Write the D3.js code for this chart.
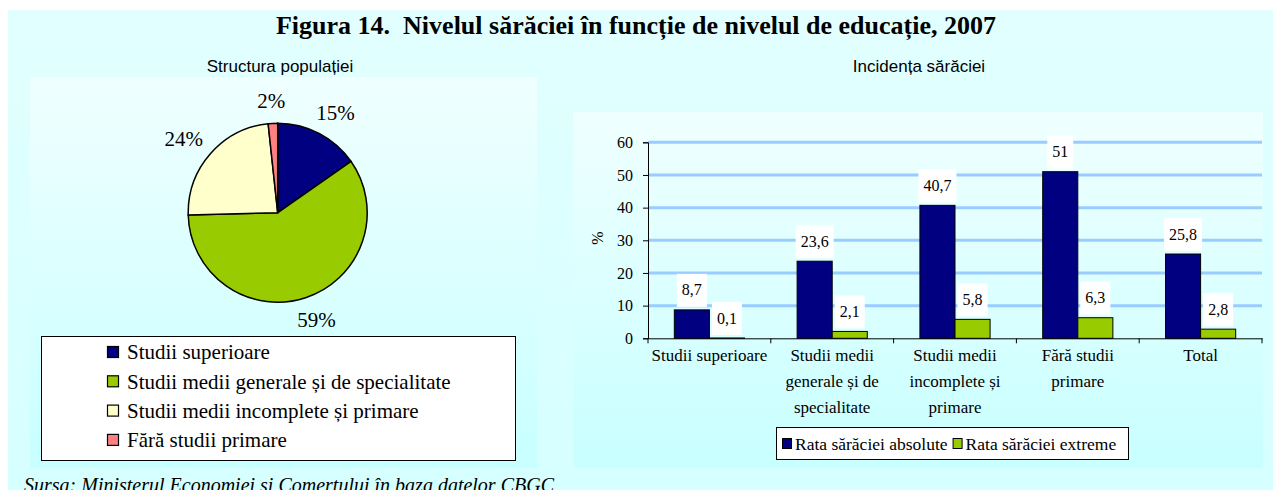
<!DOCTYPE html>
<html>
<head>
<meta charset="utf-8">
<script src="https://d3js.org/d3.v7.min.js"></script>
<style>
  body { margin: 0; background: #fff; }
  svg { display: block; }
</style>
</head>
<body>
<svg width="1273" height="490"></svg>

<script>
  // pie: population structure
  const pieCategories = ["Studii superioare", "Studii medii generale și de specialitate", "Studii medii incomplete și primare", "Fără studii primare"];
  const pieValues = [15.3, 59.3, 23.7, 1.7];
  const pieLabels = ["15%", "59%", "24%", "2%"];

  // bars: poverty incidence
  const barCategories = ["Studii superioare", "Studii medii\ngenerale și de\nspecialitate", "Studii medii\nincomplete și\nprimare", "Fără studii\nprimare", "Total"];
  const seriesNames = ["Rata sărăciei absolute", "Rata sărăciei extreme"];
  const absoluteValues = [8.7, 23.6, 40.7, 51, 25.8];
  const extremeValues = [0.1, 2.1, 5.8, 6.3, 2.8];
  const yTicks = [0, 10, 20, 30, 40, 50, 60];

  const pieColors = ["#000080", "#99cc00", "#ffffcc", "#ff8080"];
  const barColors = ["#000080", "#99cc00"];
  const serif = "'Liberation Serif', 'Times New Roman', serif";
  const sans = "'Liberation Sans', Arial, sans-serif";

  const svg = d3.select("svg");
  const defs = svg.append("defs");

  const grad = (id, c1, c2) => {
    const g = defs.append("linearGradient").attr("id", id)
      .attr("x1", 0).attr("y1", 0).attr("x2", 0).attr("y2", 1);
    g.append("stop").attr("offset", "0%").attr("stop-color", c1);
    g.append("stop").attr("offset", "100%").attr("stop-color", c2);
  };
  grad("bgOuter", "#e2ffff", "#d6ffff");
  grad("bgPanel", "#f0ffff", "#c8ffff");

  // backgrounds
  svg.append("rect").attr("x", 8).attr("y", 10).attr("width", 1265).attr("height", 480)
    .attr("fill", "url(#bgOuter)");
  svg.append("rect").attr("x", 30).attr("y", 77).attr("width", 507).attr("height", 391)
    .attr("fill", "url(#bgPanel)");
  svg.append("rect").attr("x", 573).attr("y", 112).attr("width", 690).attr("height", 356)
    .attr("fill", "url(#bgPanel)");

  // titles
  svg.append("text")
    .attr("x", 636).attr("y", 34)
    .attr("text-anchor", "middle")
    .style("white-space", "pre")
    .style("font-family", serif).style("font-weight", "bold").style("font-size", "26px")
    .text("Figura 14.  Nivelul sărăciei în funcție de nivelul de educație, 2007");

  svg.append("text")
    .attr("x", 280).attr("y", 72)
    .attr("text-anchor", "middle")
    .style("font-family", sans).style("font-size", "17px")
    .text("Structura populației");

  svg.append("text")
    .attr("x", 919).attr("y", 72)
    .attr("text-anchor", "middle")
    .style("font-family", sans).style("font-size", "17px")
    .text("Incidența sărăciei");

  // ---- pie ----
  const cx = 277.7, cy = 212.7, r = 89.5;
  const pie = d3.pie().sort(null).value(d => d)(pieValues);
  const arc = d3.arc().innerRadius(0).outerRadius(r);

  const pg = svg.append("g").attr("transform", `translate(${cx},${cy})`);
  pg.selectAll("path")
    .data(pie)
    .enter().append("path")
    .attr("d", arc)
    .attr("fill", (d, i) => pieColors[i])
    .attr("stroke", "#000")
    .attr("stroke-width", 1.5);

  // outside labels: just beyond the rim on the mid-angle, pushed out by half the label size
  pg.selectAll("text")
    .data(pie)
    .enter().append("text")
    .attr("text-anchor", "middle")
    .attr("dy", "0.35em")
    .style("font-family", serif).style("font-size", "21px")
    .text((d, i) => pieLabels[i])
    .attr("transform", function(d) {
      const a = (d.startAngle + d.endAngle) / 2;
      const w = this.getComputedTextLength();
      const sx = Math.sin(a), sy = -Math.cos(a);
      const px = sx * (r + 10) + sx * (w / 2 + 6);
      const py = sy * (r + 10) + sy * 13;
      return `translate(${px},${py})`;
    });

  // pie legend
  svg.append("rect").attr("x", 41.5).attr("y", 336.5).attr("width", 474).attr("height", 124)
    .attr("fill", "#fff").attr("stroke", "#000").attr("stroke-width", 1);

  const pl = svg.selectAll(".pie-legend")
    .data(pieCategories)
    .enter().append("g")
    .attr("class", "pie-legend")
    .attr("transform", (d, i) => `translate(107, ${352 + i * 29.3})`);

  pl.append("rect")
    .attr("x", 0.5).attr("y", -5.5)
    .attr("width", 11).attr("height", 11)
    .attr("fill", (d, i) => pieColors[i])
    .attr("stroke", "#000").attr("stroke-width", 1.2);

  pl.append("text")
    .attr("x", 20).attr("dy", "0.35em")
    .style("font-family", serif).style("font-size", "21px")
    .text(d => d);

  // ---- bars ----
  const x0 = d3.scaleBand().domain(barCategories).range([648, 1262]);
  const x1 = d3.scaleBand().domain(seriesNames).range([0, x0.bandwidth()]).paddingOuter(0.75);
  const y = d3.scaleLinear().domain([0, 60]).range([338.3, 142.3]);

  // gridlines
  svg.append("g")
    .selectAll("line")
    .data(yTicks.filter(t => t > 0))
    .enter().append("line")
    .attr("x1", 648).attr("x2", 1262)
    .attr("y1", d => y(d)).attr("y2", d => y(d))
    .attr("stroke", "#99ccff").attr("stroke-width", 3);

  const rows = barCategories.map((c, i) => ({ cat: c, vals: [absoluteValues[i], extremeValues[i]] }));

  const groups = svg.append("g").selectAll("g")
    .data(rows)
    .enter().append("g")
    .attr("transform", d => `translate(${x0(d.cat)},0)`);

  const bars = groups.selectAll("g")
    .data(d => d.vals.map((v, j) => ({ s: seriesNames[j], v: v, j: j })))
    .enter().append("g");

  bars.append("rect")
    .attr("x", d => x1(d.s))
    .attr("y", d => y(d.v))
    .attr("width", x1.bandwidth())
    .attr("height", d => y(0) - y(d.v))
    .attr("fill", d => barColors[d.j])
    .attr("stroke", "#000").attr("stroke-width", 1);

  // data labels with white boxes
  const fmt = v => String(v).replace(".", ",");
  bars.each(function(d) {
    const g = d3.select(this);
    const t = g.append("text")
      .attr("x", x1(d.s) + x1.bandwidth() / 2)
      .attr("y", y(d.v) - 20)
      .attr("dy", "0.35em")
      .attr("text-anchor", "middle")
      .style("font-family", serif).style("font-size", "16px")
      .text(fmt(d.v));
    const w = t.node().getComputedTextLength() + 10;
    g.insert("rect", "text")
      .attr("x", x1(d.s) + x1.bandwidth() / 2 - w / 2)
      .attr("y", y(d.v) - 36)
      .attr("width", w).attr("height", 33)
      .attr("fill", "#fff");
  });

  // axes
  const yAxis = svg.append("g")
    .attr("transform", "translate(648,0)")
    .call(d3.axisLeft(y).tickValues(yTicks).tickSize(5).tickPadding(10).tickFormat(d3.format("d")));
  yAxis.select(".domain").attr("stroke", "#000");
  yAxis.selectAll("text").style("font-family", serif).style("font-size", "16px").attr("fill", "#000");

  const xAxis = svg.append("g")
    .attr("transform", `translate(0,${y(0)})`)
    .call(d3.axisBottom(x0).tickSize(0).tickFormat(""));
  xAxis.select(".domain").attr("stroke", "#000");
  xAxis.selectAll(".tick").remove();

  // category boundary ticks
  svg.append("g").selectAll("line")
    .data(barCategories.map(c => x0(c)).concat([x0.range()[1]]))
    .enter().append("line")
    .attr("x1", d => d).attr("x2", d => d)
    .attr("y1", y(0)).attr("y2", y(0) + 5)
    .attr("stroke", "#000");

  // category labels
  const cl = svg.append("g").selectAll("text")
    .data(barCategories)
    .enter().append("text")
    .attr("text-anchor", "middle")
    .style("font-family", serif).style("font-size", "17px");
  cl.each(function(d) {
    const lines = d.split("\n");
    const t = d3.select(this);
    lines.forEach((ln, k) => {
      t.append("tspan")
        .attr("x", x0(d) + x0.bandwidth() / 2)
        .attr("y", 361 + k * 26)
        .text(ln);
    });
  });

  // y title
  svg.append("text")
    .attr("transform", "translate(603,238) rotate(-90)")
    .attr("text-anchor", "middle")
    .style("font-family", serif).style("font-size", "16px")
    .text("%");

  // bar legend
  svg.append("rect").attr("x", 776.5).attr("y", 427.5).attr("width", 352).attr("height", 32)
    .attr("fill", "#fff").attr("stroke", "#000").attr("stroke-width", 1);

  const bl = svg.append("g").attr("transform", "translate(782,444)");
  let lx = 0;
  seriesNames.forEach((s, i) => {
    bl.append("rect")
      .attr("x", lx + 0.5).attr("y", -5.5)
      .attr("width", 9).attr("height", 10)
      .attr("fill", barColors[i]).attr("stroke", "#000");
    const t = bl.append("text")
      .attr("x", lx + 13).attr("dy", "0.35em")
      .style("font-family", serif).style("font-size", "17.5px")
      .text(s);
    lx += 13 + t.node().getComputedTextLength() + 5;
  });

  // source (cut at the bottom edge, as in the reference)
  svg.append("text")
    .attr("x", 24).attr("y", 492)
    .style("font-family", serif).style("font-style", "italic").style("font-size", "20px")
    .text("Sursa: Ministerul Economiei și Comerțului în baza datelor CBGC");
</script>
</body>
</html>
